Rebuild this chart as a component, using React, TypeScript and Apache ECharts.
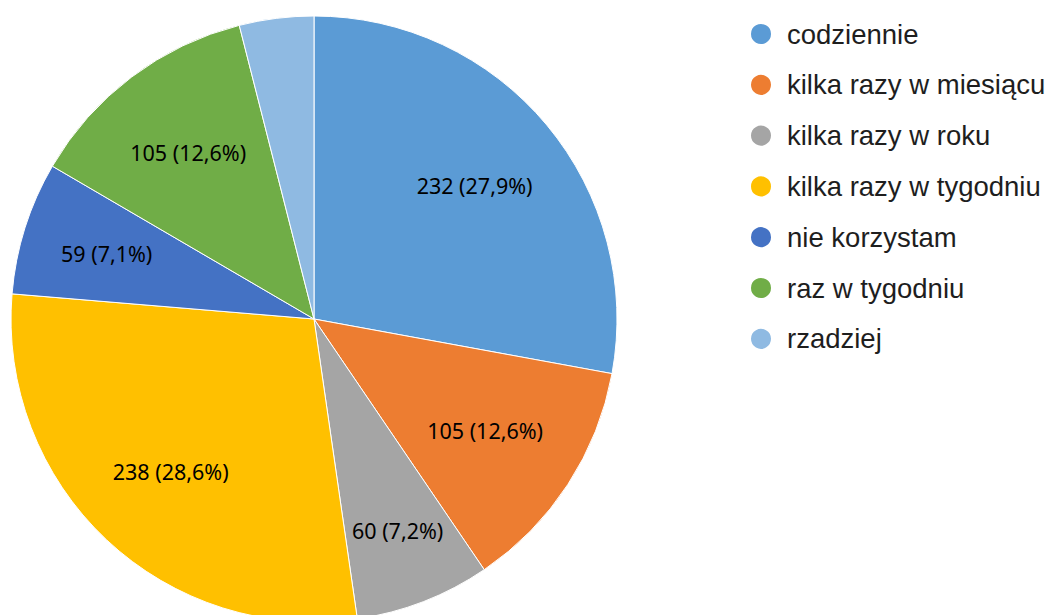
import React, { useEffect, useRef } from "react";
import * as echarts from "echarts";

const categories = [
  "codziennie",
  "kilka razy w miesiącu",
  "kilka razy w roku",
  "kilka razy w tygodniu",
  "nie korzystam",
  "raz w tygodniu",
  "rzadziej",
];
const values = [232, 105, 60, 238, 59, 105, 33];
const colors = ["#5B9BD5", "#ED7D31", "#A5A5A5", "#FFC000", "#4472C4", "#70AD47", "#8FBAE2"];
const hiddenLabels = ["rzadziej"];

export default function App() {
  const ref = useRef<HTMLDivElement>(null);
  useEffect(() => {
    if (!ref.current) return;
    const chart = echarts.init(ref.current, undefined, { renderer: "svg" });
    const center = [314, 319];
    const R = 303;
    const pieData = categories.map((name, i) => ({
      name,
      value: values[i],
      itemStyle: { color: colors[i] },
    }));
    const labelData = categories.map((name, i) => ({
      name,
      value: values[i],
      label: { show: !hiddenLabels.includes(name) },
    }));
    // small label nudges (Excel "best fit" placement)
    const nudges: Record<number, { dx: number; dy: number }> = {
      1: { dx: -4, dy: -3 },
      2: { dx: 8, dy: 17 },
      4: { dx: -8, dy: -3 },
    };
    chart.setOption({
      animation: false,
      legend: {
        orient: "vertical",
        left: 749,
        top: 20,
        padding: 0,
        icon: "circle",
        itemWidth: 42,
        itemHeight: 22,
        itemGap: 22.8,
        selectedMode: false,
        data: categories,
        textStyle: {
          fontFamily: "Liberation Sans, Arial, sans-serif",
          fontSize: 27.5,
          color: "#1e1e1e",
        },
      },
      series: [
        {
          type: "pie",
          name: "main",
          center,
          radius: [0, R],
          startAngle: 90,
          clockwise: true,
          label: { show: false },
          labelLine: { show: false },
          itemStyle: { borderColor: "#fff", borderWidth: 1 },
          emphasis: { disabled: true },
          data: pieData,
        },
        {
          type: "pie",
          name: "labels",
          center,
          radius: [0, R * 1.36],
          startAngle: 90,
          clockwise: true,
          silent: true,
          percentPrecision: 1,
          legendHoverLink: false,
          itemStyle: { color: "rgba(0,0,0,0)" },
          labelLine: { show: false },
          emphasis: { disabled: true },
          label: {
            show: true,
            position: "inside",
            color: "#000",
            fontFamily: "Noto Sans, sans-serif",
            fontSize: 21.5,
            textBorderWidth: 0,
            formatter: (p: any) => `${p.value} (${p.percent.toFixed(1).replace(".", ",")}%)`,
          },
          labelLayout: (p: any) => nudges[p.dataIndex] || {},
          data: labelData,
        },
      ],
    });
    return () => chart.dispose();
  }, []);
  return (
    <div
      ref={ref}
      style={{ position: "absolute", left: 0, top: 0, width: 1049, height: 615, background: "#fff" }}
    />
  );
}
